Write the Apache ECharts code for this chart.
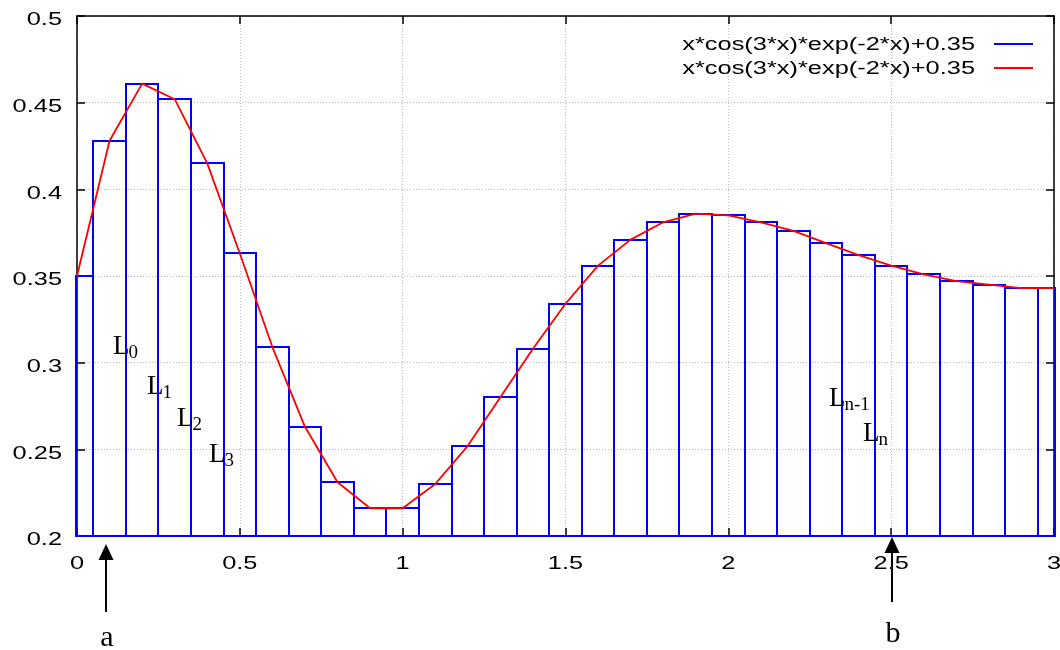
<!DOCTYPE html>
<html><head><meta charset="utf-8">
<script src="https://cdn.jsdelivr.net/npm/echarts@6/dist/echarts.min.js"></script>
<style>html,body{margin:0;padding:0;background:#fff}#c{width:1060px;height:650px}</style>
</head><body><div id="c"></div>
<script>
const xValues = [0, 0.1, 0.2, 0.3, 0.4, 0.5, 0.6, 0.7, 0.8, 0.9, 1.0, 1.1, 1.2, 1.3, 1.4, 1.5, 1.6, 1.7, 1.8, 1.9, 2.0, 2.1, 2.2, 2.3, 2.4, 2.5, 2.6, 2.7, 2.8, 2.9, 3.0];
const yValues = [0.350, 0.428, 0.461, 0.452, 0.415, 0.363, 0.309, 0.263, 0.231, 0.216, 0.216, 0.230, 0.252, 0.280, 0.308, 0.334, 0.356, 0.371, 0.381, 0.386, 0.385, 0.381, 0.376, 0.369, 0.362, 0.356, 0.351, 0.347, 0.345, 0.343, 0.343];
const xTicks = [0, 0.5, 1, 1.5, 2, 2.5, 3];
const xTickLabels = ['0', '0.5', '1', '1.5', '2', '2.5', '3'];
const yTicks = [0.2, 0.25, 0.3, 0.35, 0.4, 0.45, 0.5];
const yTickLabels = ['0.2', '0.25', '0.3', '0.35', '0.4', '0.45', '0.5'];
const seriesNames = ['x*cos(3*x)*exp(-2*x)+0.35', 'x*cos(3*x)*exp(-2*x)+0.35'];
const boxWidth = 0.1;

const points = xValues.map((x, i) => [x, yValues[i]]);
const chart = echarts.init(document.getElementById('c'), null, {renderer: 'canvas'});

const SANS = '"Liberation Sans", Arial, sans-serif';
const SERIF = '"Liberation Serif", "Times New Roman", serif';
const STRETCH = 1.41;
const GRID = {left: 77, right: 6, top: 16, bottom: 114};

function axisCommon(pos, isX) {
  return {
    type: 'value', position: pos,
    min: isX ? 0 : 0.2, max: isX ? 3 : 0.5, interval: isX ? 0.5 : 0.05,
    axisLine: {show: true, onZero: false, lineStyle: {color: '#000', width: 1.5}},
    axisTick: {show: true, inside: true, length: 8, lineStyle: {color: '#000', width: 1.5}},
    axisLabel: {show: false},
    splitLine: {show: pos === 'bottom' || pos === 'left', lineStyle: {color: '#b8b8b8', width: 1, type: [1, 2]}}
  };
}

chart.setOption({
  animation: false,
  backgroundColor: '#fff',
  grid: Object.assign({outerBoundsMode: 'none', containLabel: false}, GRID),
  xAxis: [axisCommon('bottom', true), axisCommon('top', true)],
  yAxis: [axisCommon('left', false), axisCommon('right', false)],
  series: [
    {
      name: seriesNames[0], type: 'custom', z: 2,
      data: points,
      renderItem: function (params, api) {
        const x = api.value(0), y = api.value(1);
        const cs = params.coordSys;
        const p0 = api.coord([x - boxWidth / 2, y]);
        const p1 = api.coord([x + boxWidth / 2, y]);
        const bottom = cs.y + cs.height;
        const rect = echarts.graphic.clipRectByRect(
          {x: p0[0], y: p0[1], width: p1[0] - p0[0], height: bottom - p0[1]},
          {x: cs.x - 1, y: cs.y, width: cs.width + 2, height: cs.height}
        );
        if (!rect) return null;
        const l = Math.round(rect.x), r = Math.round(rect.x + rect.width);
        const t = Math.round(rect.y), b = Math.round(rect.y + rect.height);
        return {type: 'rect', shape: {x: l, y: t, width: r - l, height: b - t},
          style: {fill: 'none', stroke: '#0000ff', lineWidth: 2}};
      }
    },
    {
      name: seriesNames[1], type: 'line', z: 3,
      data: points, symbol: 'none', smooth: false,
      lineStyle: {color: '#ff0000', width: 1.8}
    }
  ]
});

function stretchedText(text, x, y, align) {
  return {type: 'text', x: x, y: y, scaleX: STRETCH, silent: true, z: 10,
    style: {text: text, align: align, verticalAlign: 'middle', font: '18px ' + SANS, fill: '#000'}};
}

const g = [];
xTicks.forEach((v, i) => {
  const px = chart.convertToPixel({xAxisIndex: 0}, v);
  g.push(stretchedText(xTickLabels[i], px, 564, 'center'));
});
yTicks.forEach((v, i) => {
  const py = chart.convertToPixel({yAxisIndex: 0}, v);
  g.push(stretchedText(yTickLabels[i], 62, py + 4.5, 'right'));
});

// legend
const legendColors = ['#0000ff', '#ff0000'];
const legendWidths = [2, 1.8];
[45, 69].forEach((cy, i) => {
  g.push(stretchedText(seriesNames[i], 975, cy, 'right'));
  g.push({type: 'line', silent: true, z: 10, shape: {x1: 994, y1: cy - 1, x2: 1033, y2: cy - 1},
    style: {stroke: legendColors[i], lineWidth: legendWidths[i]}});
});

// L annotations
function serifLabel(main, sub, left, baseline) {
  g.push({type: 'text', x: left, y: baseline - 0.305 * 27, silent: true, z: 10,
    style: {text: main, align: 'left', verticalAlign: 'middle', font: '27px ' + SERIF, fill: '#000'}});
  g.push({type: 'text', x: left + 15.5, y: baseline + 4 - 0.305 * 19, silent: true, z: 10,
    style: {text: sub, align: 'left', verticalAlign: 'middle', font: '19px ' + SERIF, fill: '#000'}});
}
serifLabel('L', '0', 113, 355);
serifLabel('L', '1', 147, 395);
serifLabel('L', '2', 177, 427);
serifLabel('L', '3', 209, 463);
serifLabel('L', 'n-1', 829, 407);
serifLabel('L', 'n', 863, 442);

// arrows
function arrow(x, tip, headBase, end, label, labelBaseline) {
  g.push({type: 'line', silent: true, z: 10, shape: {x1: x, y1: headBase, x2: x, y2: end},
    style: {stroke: '#000', lineWidth: 2}});
  g.push({type: 'polygon', silent: true, z: 10, shape: {points: [[x, tip], [x - 7.5, headBase + 1], [x + 7.5, headBase + 1]]},
    style: {fill: '#000'}});
  g.push({type: 'text', x: x + 1, y: labelBaseline - 0.305 * 30, silent: true, z: 10,
    style: {text: label, align: 'center', verticalAlign: 'middle', font: '30px ' + SERIF, fill: '#000'}});
}
arrow(106, 544, 559, 612, 'a', 647);
arrow(892, 537, 552, 602, 'b', 643);

chart.setOption({graphic: g});
</script></body></html>
